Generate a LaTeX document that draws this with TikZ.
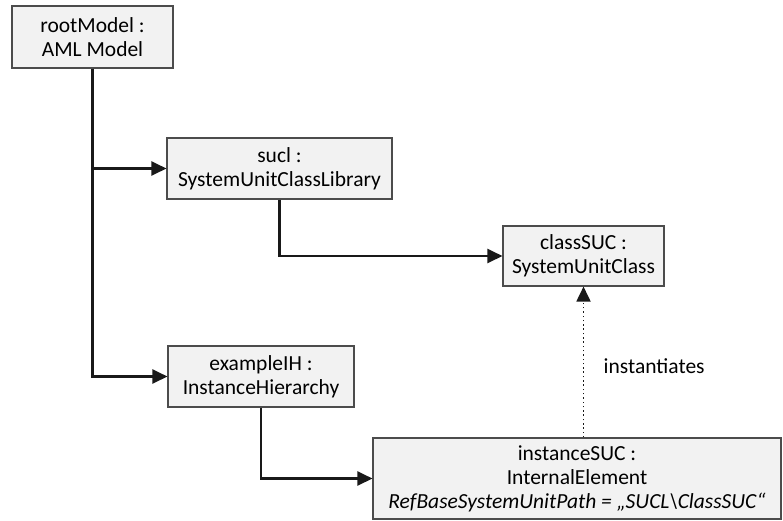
\documentclass[tikz,border=0pt]{standalone}
\usepackage{fontspec}
\setmainfont{Carlito}
\usetikzlibrary{arrows.meta,positioning,calc}
\begin{document}
\begin{tikzpicture}[x=1pt,y=-1pt,
  obj/.style={draw=black!70, line width=1.1pt, fill=black!5, align=center,
    inner sep=0pt, font=\fontsize{21.5}{24}\selectfont},
  link/.style={draw=black!90, line width=2.2pt,
    -{Triangle[length=15pt,width=14pt]}},
  instlink/.style={draw=black!90, line width=1.8pt,
    dash pattern=on 1.5pt off 2.8pt,
    -{Triangle[length=15pt,width=14pt]}}]
\useasboundingbox (0,0) rectangle (783,520);

% objects
\node[obj, minimum width=161pt, minimum height=62pt] (root) at (92.5,37)
  {rootModel :\\AML Model};
\node[obj, minimum width=225pt, minimum height=61pt] (sucl) at (279.5,168.5)
  {sucl :\\SystemUnitClassLibrary};
\node[obj, minimum width=161pt, minimum height=60pt] (cls) at (583.5,256)
  {classSUC :\\SystemUnitClass};
\node[obj, minimum width=186pt, minimum height=61pt] (ih) at (261,376.5)
  {exampleIH :\\InstanceHierarchy};
\node[obj, minimum width=408pt, minimum height=81pt] (inst) at (577,478.5)
  {instanceSUC :\\InternalElement\\
   \textit{RefBaseSystemUnitPath = „SUCL\textbackslash ClassSUC“}};

% containment links
\draw[link] (root.south) |- (sucl.west);
\draw[link] (root.south) |- (ih.west);
\draw[link] (sucl.south) |- (cls.west);
\draw[link] (ih.south) |- (inst.west);

% instantiation link
\coordinate (instTop) at (cls.south |- inst.north);
\draw[instlink] (instTop) -- (cls.south)
  node[pos=0.47, anchor=west, xshift=16pt,
       font=\fontsize{21.5}{24}\selectfont] (lbl) {instantiates};
\end{tikzpicture}
\end{document}
